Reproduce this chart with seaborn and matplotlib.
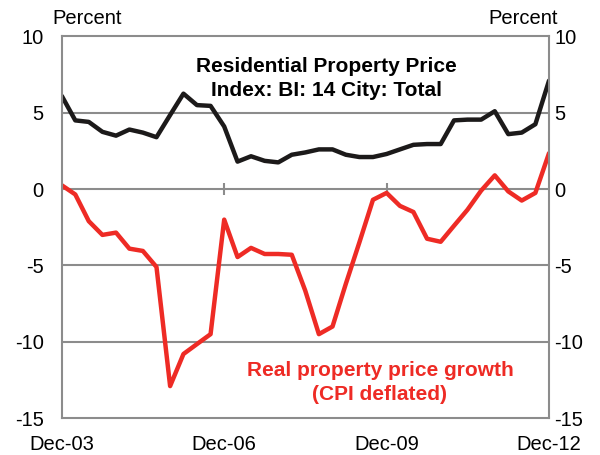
import matplotlib
matplotlib.use("Agg")
import matplotlib.pyplot as plt
import seaborn as sns
import pandas as pd

# === DATA (quarterly, Dec-03 to Dec-12) ===
quarters = pd.date_range("2003-12-31", "2012-12-31", freq="QE")

nominal_growth = [6.1, 4.5, 4.4, 3.75, 3.5, 3.9, 3.7, 3.4, 4.85, 6.25,
                  5.5, 5.45, 4.1, 1.8, 2.15, 1.85, 1.75, 2.25, 2.4, 2.6,
                  2.6, 2.25, 2.1, 2.1, 2.3, 2.6, 2.9, 2.95, 2.95, 4.5,
                  4.55, 4.55, 5.1, 3.6, 3.7, 4.25, 7.1]

real_growth = [0.25, -0.35, -2.1, -3.0, -2.85, -3.9, -4.05, -5.1, -12.9, -10.8,
               -10.15, -9.5, -2.0, -4.45, -3.85, -4.25, -4.25, -4.3, -6.65, -9.5,
               -9.0, -6.2, -3.5, -0.7, -0.25, -1.1, -1.5, -3.25, -3.45, -2.4,
               -1.35, -0.1, 0.9, -0.15, -0.75, -0.25, 2.35]

tick_dates = pd.to_datetime(["2003-12-31", "2006-12-31", "2009-12-31", "2012-12-31"])
tick_labels = ["Dec-03", "Dec-06", "Dec-09", "Dec-12"]
y_ticks = [-15, -10, -5, 0, 5, 10]

df = pd.DataFrame({"date": quarters, "nominal": nominal_growth, "real": real_growth})

# === STYLE ===
sns.set_style("white")
plt.rcParams["font.family"] = ["Liberation Sans", "DejaVu Sans"]
plt.rcParams["axes.unicode_minus"] = False
grey = "#8c8c8c"
red = "#ee2b25"
black = "#1c1a1a"

fig = plt.figure(figsize=(6, 4.55), dpi=100)
ax = fig.add_axes([0.103, 0.081, 0.812, 0.839])

sns.lineplot(data=df, x="date", y="nominal", ax=ax, color=black, linewidth=3.2)
sns.lineplot(data=df, x="date", y="real", ax=ax, color=red, linewidth=3.2)

ax.set_xlim(quarters[0], quarters[-1])
ax.set_ylim(-15, 10)
ax.set_yticks(y_ticks)
ax.set_xticks(tick_dates)
ax.set_xticklabels(tick_labels)
ax.set_xlabel("")
ax.set_ylabel("")

# horizontal gridlines and frame
for y in y_ticks[1:-1]:
    ax.axhline(y, color=grey, linewidth=1.5, zorder=0)
for sp in ax.spines.values():
    sp.set_color(grey)
    sp.set_linewidth(1.5)

# small x ticks sitting on the zero line
ax.vlines(tick_dates[1:-1], -0.4, 0.4, color=grey, linewidth=1.5, zorder=0)

ax.tick_params(axis="y", length=0, pad=13, labelsize=14.5, labelcolor="black")
ax.tick_params(axis="x", length=0, pad=12, labelsize=14.5, labelcolor="black")

# right-hand labels
ax2 = ax.twinx()
ax2.set_ylim(-15, 10)
ax2.set_yticks(y_ticks)
ax2.tick_params(axis="y", length=0, pad=4, labelsize=14.5, labelcolor="black")
for sp in ax2.spines.values():
    sp.set_visible(False)

fig.text(0.087, 0.947, "Percent", fontsize=14.5, ha="left", va="baseline", color="black")
fig.text(0.93, 0.947, "Percent", fontsize=14.5, ha="right", va="baseline", color="black")

ax.text(0.544, 0.89, "Residential Property Price\nIndex: BI: 14 City: Total",
        transform=ax.transAxes, ha="center", va="center", fontsize=15,
        fontweight="bold", color="black", linespacing=1.3)
ax.text(0.653, 0.093, "Real property price growth\n(CPI deflated)",
        transform=ax.transAxes, ha="center", va="center", fontsize=15,
        fontweight="bold", color=red, linespacing=1.3)

plt.savefig("out.png", dpi=100)
plt.close()
